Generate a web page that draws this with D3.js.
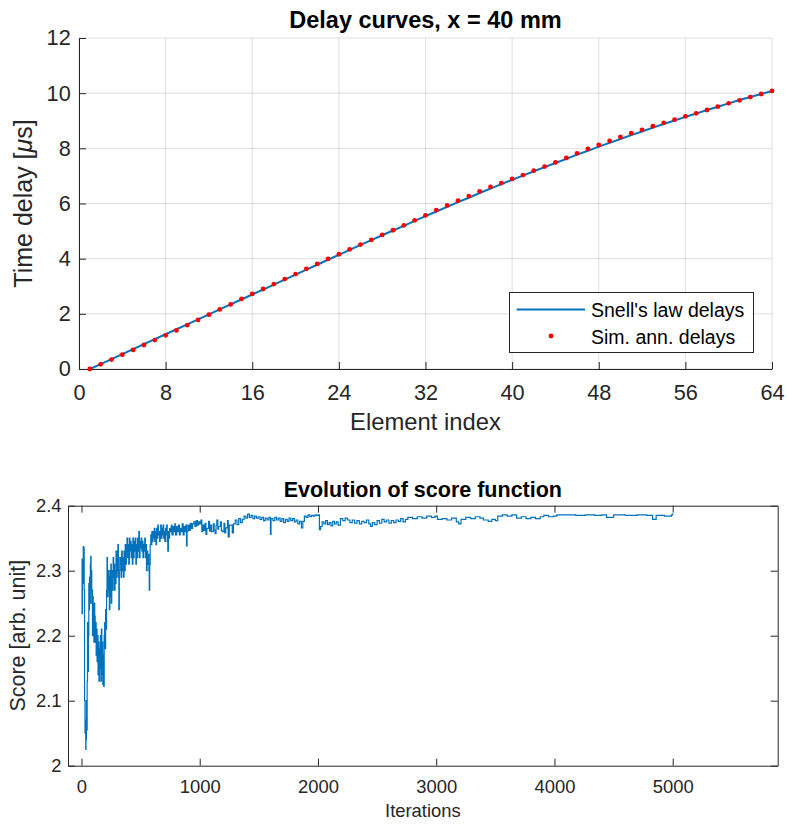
<!DOCTYPE html>
<html>
<head>
<meta charset="utf-8">
<script src="https://cdn.jsdelivr.net/npm/d3@7"></script>
<style>
  body { margin: 0; background: #fff; }
  svg { display: block; }
  text { font-family: "Liberation Sans", Arial, Helvetica, sans-serif; }
</style>
</head>
<body>
<svg id="fig" width="787" height="827"></svg>
<script>
// ---- Delay curves (x = 40 mm) ----
const elementIndex = d3.range(1, 65);
const snellDelays = [
  0.00, 0.18, 0.36, 0.54, 0.72, 0.90, 1.08, 1.26, 1.44, 1.62, 1.80, 1.98, 2.16, 2.34, 2.52, 2.70,
  2.88, 3.06, 3.24, 3.42, 3.60, 3.78, 3.96, 4.14, 4.32, 4.50, 4.67, 4.85, 5.02, 5.19, 5.37, 5.54,
  5.71, 5.88, 6.05, 6.21, 6.38, 6.54, 6.70, 6.86, 7.01, 7.17, 7.32, 7.47, 7.62, 7.77, 7.91, 8.06,
  8.20, 8.34, 8.48, 8.61, 8.75, 8.88, 9.01, 9.14, 9.26, 9.39, 9.51, 9.63, 9.75, 9.86, 9.97, 10.08
];
const annealDelays = [
  0.00, 0.17, 0.34, 0.52, 0.69, 0.87, 1.05, 1.22, 1.40, 1.59, 1.78, 1.97, 2.16, 2.34, 2.54, 2.72,
  2.90, 3.08, 3.26, 3.44, 3.63, 3.81, 3.99, 4.16, 4.34, 4.51, 4.68, 4.86, 5.03, 5.21, 5.39, 5.57,
  5.76, 5.93, 6.10, 6.27, 6.44, 6.60, 6.74, 6.89, 7.03, 7.19, 7.34, 7.49, 7.65, 7.82, 7.98, 8.12,
  8.27, 8.41, 8.55, 8.67, 8.80, 8.92, 9.04, 9.16, 9.27, 9.39, 9.51, 9.63, 9.74, 9.86, 9.97, 10.08
];
const elementTicks = [0, 8, 16, 24, 32, 40, 48, 56, 64];
const delayTicks = [0, 2, 4, 6, 8, 10, 12];

// ---- Score history of the annealing run: [iteration, score] ----
const scoreHistory = [
  [1, 2.318], [5, 2.234], [8, 2.29], [12, 2.30], [15, 2.337], [18, 2.28], [21, 2.335], [23, 2.27],
  [26, 2.10], [30, 2.05], [33, 2.07], [36, 2.025], [38, 2.06], [40, 2.04], [42, 2.10], [45, 2.055],
  [48, 2.13], [51, 2.22], [53, 2.16], [56, 2.145], [59, 2.20], [62, 2.28], [65, 2.24], [68, 2.29],
  [71, 2.25], [75, 2.31], [78, 2.322], [81, 2.27], [84, 2.30], [87, 2.25], [90, 2.27], [93, 2.20],
  [96, 2.26], [99, 2.24], [102, 2.25], [105, 2.19], [108, 2.25], [112, 2.23], [116, 2.19], [120, 2.22],
  [124, 2.17], [128, 2.21], [132, 2.16], [136, 2.20], [140, 2.14], [144, 2.19], [148, 2.13], [152, 2.18],
  [156, 2.15], [160, 2.20], [164, 2.13], [168, 2.21], [172, 2.14], [176, 2.19], [180, 2.125], [184, 2.17],
  [188, 2.122], [192, 2.20], [196, 2.22], [200, 2.18], [204, 2.24], [208, 2.21], [212, 2.27], [216, 2.32],
  [220, 2.26], [224, 2.30], [228, 2.27], [232, 2.29], [236, 2.24], [240, 2.30], [244, 2.26], [248, 2.31],
  [252, 2.25], [256, 2.28], [260, 2.30], [264, 2.27], [268, 2.32], [272, 2.29], [276, 2.31], [280, 2.27],
  [284, 2.30], [288, 2.28], [292, 2.33], [296, 2.29], [300, 2.33], [304, 2.30], [308, 2.34], [312, 2.29],
  [316, 2.24], [320, 2.30], [324, 2.32], [330, 2.31], [335, 2.29], [340, 2.33], [345, 2.30], [350, 2.32],
  [355, 2.29], [360, 2.33], [365, 2.30], [370, 2.34], [375, 2.31], [380, 2.33], [385, 2.35], [390, 2.32],
  [395, 2.34], [400, 2.31], [405, 2.35], [410, 2.33], [415, 2.345], [420, 2.32], [425, 2.34], [430, 2.31],
  [435, 2.35], [440, 2.32], [445, 2.345], [450, 2.33], [455, 2.35], [460, 2.31], [465, 2.34], [470, 2.32],
  [475, 2.35], [480, 2.33], [485, 2.36], [490, 2.32], [495, 2.345], [500, 2.335], [505, 2.35], [510, 2.33],
  [515, 2.345], [520, 2.32], [525, 2.34], [530, 2.33], [535, 2.35], [540, 2.32], [545, 2.34], [550, 2.30],
  [555, 2.33], [560, 2.31], [565, 2.325], [570, 2.30], [573, 2.27], [577, 2.31], [581, 2.34], [586, 2.355],
  [590, 2.34], [595, 2.36], [600, 2.345], [605, 2.36], [610, 2.35], [615, 2.365], [620, 2.345], [625, 2.36],
  [630, 2.34], [635, 2.365], [640, 2.35], [645, 2.37], [650, 2.355], [655, 2.36], [660, 2.345], [665, 2.36],
  [670, 2.37], [675, 2.35], [680, 2.365], [685, 2.355], [690, 2.37], [695, 2.35], [700, 2.36], [705, 2.345],
  [710, 2.365], [715, 2.355], [720, 2.37], [725, 2.345], [730, 2.33], [735, 2.36], [740, 2.35], [745, 2.365],
  [750, 2.36], [760, 2.37], [765, 2.355], [775, 2.368], [780, 2.36], [790, 2.372], [795, 2.355], [805, 2.368],
  [810, 2.36], [820, 2.37], [828, 2.355], [835, 2.365], [845, 2.36], [852, 2.372], [860, 2.355], [868, 2.368],
  [875, 2.36], [882, 2.37], [888, 2.338], [893, 2.36], [900, 2.37], [910, 2.362], [920, 2.373], [930, 2.365],
  [940, 2.372], [950, 2.375], [960, 2.368], [970, 2.377], [980, 2.37], [990, 2.375], [1000, 2.372], [1010, 2.378],
  [1018, 2.360], [1025, 2.37], [1035, 2.362], [1045, 2.373], [1052, 2.356], [1060, 2.365], [1075, 2.376], [1083, 2.361],
  [1090, 2.37], [1100, 2.36], [1115, 2.372], [1122, 2.362], [1130, 2.357], [1138, 2.370], [1145, 2.378], [1153, 2.364],
  [1160, 2.368], [1175, 2.375], [1183, 2.362], [1190, 2.36], [1205, 2.373], [1212, 2.358], [1220, 2.366], [1235, 2.377],
  [1241, 2.352], [1250, 2.37], [1265, 2.370], [1275, 2.358], [1285, 2.372], [1300, 2.378], [1315, 2.371], [1330, 2.380],
  [1345, 2.374], [1360, 2.379], [1375, 2.384], [1390, 2.381], [1405, 2.387], [1420, 2.382], [1435, 2.385], [1450, 2.380],
  [1465, 2.384], [1480, 2.381], [1495, 2.383], [1510, 2.379], [1525, 2.382], [1540, 2.377], [1555, 2.381], [1570, 2.378],
  [1585, 2.382], [1598, 2.356], [1603, 2.380], [1620, 2.377], [1635, 2.382], [1650, 2.378], [1665, 2.381], [1680, 2.376],
  [1695, 2.380], [1710, 2.374], [1725, 2.379], [1740, 2.376], [1755, 2.381], [1770, 2.377], [1785, 2.380], [1800, 2.375],
  [1815, 2.378], [1830, 2.372], [1845, 2.376], [1860, 2.366], [1872, 2.376], [1885, 2.384], [1900, 2.382], [1915, 2.386],
  [1930, 2.383], [1945, 2.385], [1960, 2.384], [1975, 2.386], [1990, 2.385], [2005, 2.386], [2012, 2.363], [2022, 2.368],
  [2035, 2.375], [2050, 2.372], [2065, 2.377], [2080, 2.371], [2095, 2.374], [2110, 2.369], [2125, 2.376], [2140, 2.372],
  [2155, 2.375], [2170, 2.370], [2190, 2.380], [2210, 2.377], [2230, 2.381], [2250, 2.378], [2270, 2.374], [2290, 2.378],
  [2310, 2.373], [2330, 2.377], [2350, 2.372], [2370, 2.376], [2390, 2.374], [2410, 2.378], [2430, 2.372], [2445, 2.368],
  [2460, 2.374], [2480, 2.371], [2500, 2.377], [2520, 2.373], [2540, 2.379], [2560, 2.375], [2580, 2.378], [2600, 2.373],
  [2620, 2.377], [2640, 2.374], [2660, 2.378], [2680, 2.376], [2700, 2.380], [2720, 2.375], [2740, 2.379], [2760, 2.382],
  [2800, 2.380], [2840, 2.383], [2880, 2.381], [2920, 2.384], [2960, 2.382], [2990, 2.384], [3010, 2.379], [3050, 2.380],
  [3090, 2.378], [3130, 2.381], [3170, 2.375], [3190, 2.372], [3210, 2.379], [3250, 2.382], [3290, 2.380], [3330, 2.383],
  [3370, 2.381], [3400, 2.378], [3440, 2.376], [3470, 2.379], [3500, 2.377], [3520, 2.384], [3560, 2.386], [3600, 2.384],
  [3640, 2.386], [3680, 2.381], [3720, 2.383], [3760, 2.380], [3800, 2.382], [3840, 2.380], [3880, 2.383], [3910, 2.385],
  [3950, 2.383], [3990, 2.384], [4020, 2.386], [4100, 2.386], [4180, 2.385], [4260, 2.386], [4340, 2.385], [4400, 2.386],
  [4440, 2.382], [4500, 2.386], [4600, 2.385], [4700, 2.386], [4780, 2.385], [4830, 2.379], [4860, 2.385], [4930, 2.384],
  [4990, 2.386], [5000, 2.388]
];
const iterationTicks = [0, 1000, 2000, 3000, 4000, 5000];
const scoreTicks = [2, 2.1, 2.2, 2.3, 2.4];

// ---- Styling ----
const AXIS = "#262626";
const BLUE = "#0072BD";
const RED = "#FF0000";

const svg = d3.select("#fig");

function styleAxis(g, fontSize) {
  g.select(".domain").attr("stroke", AXIS).attr("stroke-width", 1);
  g.selectAll(".tick line").attr("stroke", AXIS).attr("stroke-width", 1);
  g.selectAll(".tick text").attr("fill", AXIS).attr("font-size", fontSize)
    .attr("font-family", '"Liberation Sans", Arial, sans-serif');
}

// ================= Top panel: delay curves =================
{
  const L = 79, R = 772, T = 38, B = 369;
  const x = d3.scaleLinear().domain([0, 64]).range([L, R]);
  const y = d3.scaleLinear().domain([0, 12]).range([B, T]);
  const tickFont = 21.7;

  const grid = svg.append("g").attr("stroke", AXIS).attr("stroke-opacity", 0.15).attr("stroke-width", 1);
  grid.selectAll("line.gx").data(elementTicks).join("line")
    .attr("x1", d => x(d)).attr("x2", d => x(d)).attr("y1", T).attr("y2", B);
  grid.selectAll("line.gy").data(delayTicks).join("line")
    .attr("x1", L).attr("x2", R).attr("y1", d => y(d)).attr("y2", d => y(d));

  const gx = svg.append("g").attr("transform", `translate(0,${B})`)
    .call(d3.axisBottom(x).tickValues(elementTicks).tickSizeInner(-7).tickSizeOuter(0).tickPadding(15.6));
  styleAxis(gx, tickFont);
  const gy = svg.append("g").attr("transform", `translate(${L},0)`)
    .call(d3.axisLeft(y).tickValues(delayTicks).tickSizeInner(-7).tickSizeOuter(0).tickPadding(8.3));
  styleAxis(gy, tickFont);

  const line = d3.line().x((d, i) => x(elementIndex[i])).y(d => y(d));
  svg.append("path").datum(snellDelays)
    .attr("d", line).attr("fill", "none").attr("stroke", BLUE).attr("stroke-width", 2);

  svg.append("g").selectAll("circle").data(annealDelays).join("circle")
    .attr("cx", (d, i) => x(elementIndex[i])).attr("cy", d => y(d))
    .attr("r", 2.4).attr("fill", RED);

  svg.append("text").attr("x", (L + R) / 2).attr("y", 28)
    .attr("text-anchor", "middle").attr("font-weight", "bold").attr("font-size", 23.5).attr("fill", "#000")
    .text("Delay curves, x = 40 mm");

  svg.append("text").attr("x", (L + R) / 2).attr("y", 430)
    .attr("text-anchor", "middle").attr("font-size", 23.8).attr("fill", AXIS)
    .text("Element index");

  const yl = svg.append("text").attr("transform", `translate(32,${(T + B) / 2}) rotate(-90)`)
    .attr("text-anchor", "middle").attr("font-size", 25).attr("fill", AXIS);
  yl.append("tspan").text("Time delay [");
  yl.append("tspan").attr("font-style", "italic").text("μ");
  yl.append("tspan").text("s]");

  // legend
  const lg = svg.append("g");
  lg.append("rect").attr("x", 509.5).attr("y", 292.5).attr("width", 244).attr("height", 60)
    .attr("fill", "#fff").attr("stroke", AXIS).attr("stroke-width", 1);
  lg.append("line").attr("x1", 516.7).attr("x2", 585).attr("y1", 309.5).attr("y2", 309.5)
    .attr("stroke", BLUE).attr("stroke-width", 2);
  lg.append("circle").attr("cx", 551).attr("cy", 336).attr("r", 2.4).attr("fill", RED);
  lg.append("text").attr("x", 591).attr("y", 316.5).attr("font-size", 19.5).attr("fill", "#000")
    .text("Snell's law delays");
  lg.append("text").attr("x", 591).attr("y", 343.5).attr("font-size", 19.5).attr("fill", "#000")
    .text("Sim. ann. delays");
}

// ================= Bottom panel: score evolution =================
{
  const L = 68, R = 777.7, T = 505.7, B = 765.7;
  const x = d3.scaleLinear().domain([-114, 5888]).range([L, R]);
  const y = d3.scaleLinear().domain([2, 2.4]).range([B, T]);
  const tickFont = 18.4;

  svg.append("path").datum(scoreHistory)
    .attr("d", d3.line().x(d => x(d[0])).y(d => y(d[1])).curve(d3.curveStepAfter))
    .attr("fill", "none").attr("stroke", BLUE).attr("stroke-width", 1.2);

  const gx = svg.append("g").attr("transform", `translate(0,${B})`)
    .call(d3.axisBottom(x).tickValues(iterationTicks).tickFormat(d3.format("d"))
      .tickSizeInner(-7).tickSizeOuter(0).tickPadding(14.2));
  styleAxis(gx, tickFont);
  const gxt = svg.append("g").attr("transform", `translate(0,${T})`)
    .call(d3.axisTop(x).tickValues(iterationTicks).tickFormat("").tickSizeInner(-7).tickSizeOuter(0));
  styleAxis(gxt, tickFont);
  const gy = svg.append("g").attr("transform", `translate(${L},0)`)
    .call(d3.axisLeft(y).tickValues(scoreTicks).tickFormat(d => d === 2 ? "2" : d3.format(".1f")(d))
      .tickSizeInner(-7).tickSizeOuter(0).tickPadding(6.5));
  styleAxis(gy, tickFont);
  const gyr = svg.append("g").attr("transform", `translate(${R},0)`)
    .call(d3.axisRight(y).tickValues(scoreTicks).tickFormat("").tickSizeInner(-7).tickSizeOuter(0));
  styleAxis(gyr, tickFont);

  svg.append("text").attr("x", (L + R) / 2).attr("y", 497)
    .attr("text-anchor", "middle").attr("font-weight", "bold").attr("font-size", 21.5).attr("fill", "#000")
    .text("Evolution of score function");

  svg.append("text").attr("x", (L + R) / 2).attr("y", 817)
    .attr("text-anchor", "middle").attr("font-size", 18.4).attr("fill", AXIS)
    .text("Iterations");

  svg.append("text").attr("transform", `translate(25,${(T + B) / 2}) rotate(-90)`)
    .attr("text-anchor", "middle").attr("font-size", 21.5).attr("fill", AXIS)
    .text("Score [arb. unit]");
}
</script>
</body>
</html>
